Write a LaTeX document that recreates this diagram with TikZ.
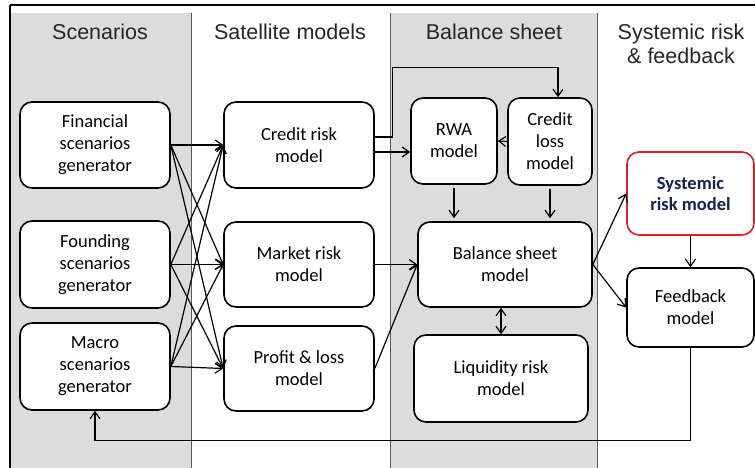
\documentclass[tikz,border=0pt]{standalone}
\usepackage{fontspec}
\setmainfont{Carlito}
\newfontfamily\titlefont{Liberation Sans}
\usetikzlibrary{arrows.meta,calc}

\definecolor{colgray}{RGB}{220,220,220}
\definecolor{sepgray}{RGB}{90,90,90}
\definecolor{sysred}{RGB}{226,30,40}
\definecolor{sysblue}{RGB}{22,34,78}

\tikzset{
  modelbox/.style={draw, rounded corners=12pt, line width=1.6pt, fill=white,
    align=center, inner sep=0pt, font=\fontsize{18.5}{22}\selectfont},
  coltitle/.style={align=center, text=black!85,
    font=\titlefont\fontsize{21.5}{24}\selectfont},
}

\begin{document}
\begin{tikzpicture}[x=1pt, y=-1pt, >={Straight Barb[length=7pt,width=10pt]}]

        \useasboundingbox (0,0) rectangle (755,468);

        % columns
        \fill[colgray] (10,13) rectangle (191,468);
        \fill[colgray] (390,13) rectangle (597,468);
        \draw[sepgray, line width=0.8pt] (191,13) -- (191,468)
                                         (390,13) -- (390,468)
                                         (597,13) -- (597,468);
        \draw[line width=2.6pt] (10,5) -- (755,5);
        \draw[line width=1.6pt] (10,5) -- (10,468);

        \node[coltitle] (t1) at (100,32) {Scenarios};
        \node[coltitle] (t2) at (290,32) {Satellite models};
        \node[coltitle] (t3) at (494,32) {Balance sheet};
        \node[coltitle] (t4) at (681,44) {Systemic risk\\\& feedback};

        \begin{scope}[every node/.style={modelbox}]
          \node[minimum width=150, minimum height=86] (1)  at (95,145)    {Financial\\scenarios\\generator};
          \node[minimum width=150, minimum height=87] (2)  at (95,264.5)  {Founding\\scenarios\\generator};
          \node[minimum width=150, minimum height=87] (3)  at (95,366.5)  {Macro\\scenarios\\generator};
          \node[minimum width=150, minimum height=86] (4)  at (299,145)   {Credit risk\\model};
          \node[minimum width=150, minimum height=85] (5)  at (299,264.5) {Market risk\\model};
          \node[minimum width=150, minimum height=85] (6)  at (299,368.5) {Profit \& loss\\model};
          \node[minimum width=86,  minimum height=86] (7)  at (454,141)   {RWA\\model};
          \node[minimum width=84,  minimum height=87] (8)  at (550,141.5) {Credit\\loss\\model};
          \node[minimum width=174, minimum height=85] (9)  at (505,264.5) {Balance sheet\\model};
          \node[minimum width=174, minimum height=87] (10) at (501,378.5) {Liquidity risk\\model};
          \node[minimum width=127, minimum height=83, draw=sysred, text=sysblue,
                font=\bfseries\fontsize{18.5}{21}\selectfont] (11) at (690.5,193.5) {Systemic\\risk model};
          \node[minimum width=127, minimum height=79] (12) at (690.5,307.5) {Feedback\\model};
        \end{scope}

        \coordinate (c1) at ($(4.east)+(0,-8)$);
        \coordinate (c2) at ($(4.east)+(0,7)$);
        \coordinate (c3) at ($(3.south)+(0,30)$);

        \begin{scope}[line width=1.2pt, every edge/.style={draw,->}]
          \path (1.east) edge (4.west);
          \path (1.east) edge (5.west);
          \path (1.east) edge (6.west);
          \path (2.east) edge (4.west);
          \path (2.east) edge (5.west);
          \path (2.east) edge (6.west);
          \path (3.east) edge (4.west);
          \path (3.east) edge (5.west);
          \path (3.east) edge (6.west);
          \path (c2)     edge (c2 -| 7.west);
          \path (8.west) edge (7.east);
          \path (5.east) edge (5.east -| 9.west);
          \path (6.east) edge (9.west);
          \path (9.east) edge (11.west);
          \path (9.east) edge (12.west);
          \path[shorten <=3pt, shorten >=3pt] (7.south) edge (7.south |- 9.north);
          \path[shorten <=3pt, shorten >=3pt] (8.south) edge (8.south |- 9.north);
          \path (11.south) edge (11.south |- 12.north);
          \path (10.north) edge[<->] (10.north |- 9.south);
          \draw[->] (c1) -- ++(18,0) |- ($(8.north)+(8,-30)$) -- ($(8.north)+(8,0)$);
          \draw[->] (12.south) |- (c3) -- (3.south);
        \end{scope}

      \end{tikzpicture}
\end{document}
